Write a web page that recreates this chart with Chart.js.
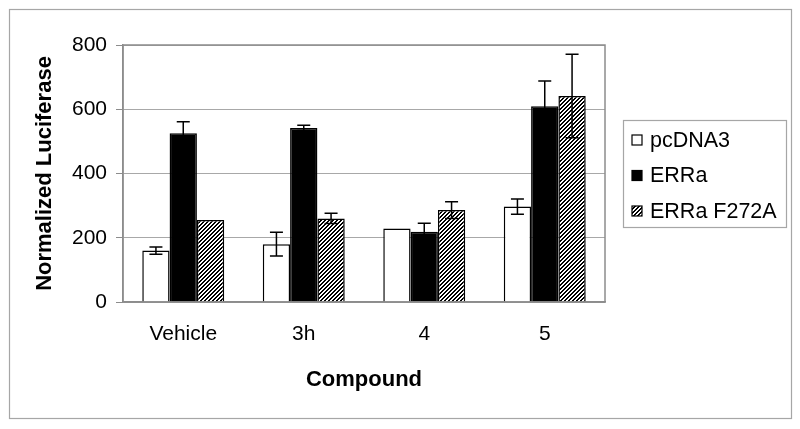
<!DOCTYPE html>
<html>
<head>
<meta charset="utf-8">
<script src="https://cdn.jsdelivr.net/npm/chart.js@4"></script>
<style>
html,body{margin:0;padding:0;background:#fff;}
canvas{display:block;}
</style>
</head>
<body>
<canvas id="c" width="800" height="429"></canvas>
<script>
// ---- data ----
const categories = ["Vehicle", "3h", "4", "5"];
const seriesNames = ["pcDNA3", "ERRa", "ERRa F272A"];
const pcDNA3 = [160, 180, 229, 297];
const pcDNA3Err = [11, 37, 0, 24];
const ERRa = [525, 542, 219, 609];
const ERRaErr = [36, 8, 26, 79];
const ERRaF272A = [255, 260, 286, 641];
const ERRaF272AErr = [0, 16, 26, 130];
const yTicks = [0, 200, 400, 600, 800];
const xTitle = "Compound";
const yTitle = "Normalized Luciferase";

// crisp diagonal hatch pattern ("/" stripes)
function makeHatch() {
  const s = 4;
  const p = document.createElement('canvas');
  p.width = s; p.height = s;
  const g = p.getContext('2d');
  g.fillStyle = '#fff';
  g.fillRect(0, 0, s, s);
  g.fillStyle = '#000';
  for (let x = 0; x < s; x++) {
    for (let y = 0; y < s; y++) {
      if ((x + y) % 4 < 2) g.fillRect(x, y, 1, 1);
    }
  }
  return g.createPattern(p, 'repeat');
}
const ctx = document.getElementById('c').getContext('2d');
const hatch = makeHatch();

const errors = [pcDNA3Err, ERRaErr, ERRaF272AErr];
const fills = ['#ffffff', '#000000', hatch];

const FONT = "'Liberation Sans', Arial, sans-serif";

const framePlugin = {
  id: 'frame',
  beforeDraw(chart) {
    const c = chart.ctx;
    c.save();
    c.fillStyle = '#fff';
    c.fillRect(0, 0, chart.width, chart.height);
    c.strokeStyle = '#a6a6a6';
    c.lineWidth = 1.2;
    c.strokeRect(9.5, 9.5, 782, 409);
    c.restore();
  },
  afterDatasetsDraw(chart) {
    const c = chart.ctx;
    const ys = chart.scales.y;
    c.save();
    c.strokeStyle = '#000';
    c.lineWidth = 1.5;
    chart.data.datasets.forEach((ds, di) => {
      const meta = chart.getDatasetMeta(di);
      meta.data.forEach((bar, i) => {
        const e = errors[di][i];
        if (!e) return;
        const v = ds.data[i];
        const x = bar.x;
        const yT = ys.getPixelForValue(v + e);
        const yB = ys.getPixelForValue(v - e);
        c.beginPath();
        c.moveTo(x, yT); c.lineTo(x, yB);
        c.moveTo(x - 6.5, yT); c.lineTo(x + 6.5, yT);
        c.moveTo(x - 6.5, yB); c.lineTo(x + 6.5, yB);
        c.stroke();
      });
    });
    c.restore();
  },
  afterDraw(chart) {
    const c = chart.ctx;
    const a = chart.chartArea;
    c.save();
    // plot area border
    c.strokeStyle = '#8c8c8c';
    c.lineWidth = 1.5;
    c.strokeRect(a.left, a.top, a.right - a.left, a.bottom - a.top);
    // legend
    const lx = 623, ly = 120, lw = 163, lh = 107;
    c.strokeStyle = '#a6a6a6';
    c.lineWidth = 1.2;
    c.fillStyle = '#fff';
    c.fillRect(lx, ly, lw, lh);
    c.strokeRect(lx + 0.5, ly + 0.5, lw, lh);
    c.font = "21.5px " + FONT;
    c.textBaseline = 'middle';
    c.textAlign = 'left';
    chart.data.datasets.forEach((ds, i) => {
      const cy = 140 + i * 35.5;
      c.fillStyle = fills[i];
      c.fillRect(632, cy - 5, 10, 10);
      c.strokeStyle = '#000';
      c.lineWidth = 1.2;
      c.strokeRect(632, cy - 5, 10, 10);
      c.fillStyle = '#000';
      c.fillText(ds.label, 650, cy + 1);
    });
    c.restore();
  }
};

new Chart(ctx, {
  type: 'bar',
  data: {
    labels: categories,
    datasets: [
      { label: seriesNames[0], data: pcDNA3, backgroundColor: fills[0], borderColor: '#000', borderWidth: 1.5 },
      { label: seriesNames[1], data: ERRa, backgroundColor: fills[1], borderColor: '#000', borderWidth: 1.5 },
      { label: seriesNames[2], data: ERRaF272A, backgroundColor: fills[2], borderColor: '#000', borderWidth: 1.5 }
    ]
  },
  options: {
    responsive: false,
    animation: false,
    events: [],
    layout: { padding: { top: 45, right: 195, bottom: 0, left: 0 } },
    datasets: { bar: { categoryPercentage: 0.68, barPercentage: 1.0 } },
    plugins: { legend: { display: false }, tooltip: { enabled: false } },
    scales: {
      x: {
        grid: { display: false, drawTicks: false },
        border: { display: true, color: '#8c8c8c', width: 1.5 },
        ticks: { color: '#000', font: { family: FONT, size: 21 }, padding: 20, maxRotation: 0 },
        title: { display: true, text: xTitle, color: '#000', font: { family: FONT, size: 22, weight: 'bold' }, padding: { top: 0, bottom: 36 } },
        afterFit(s) { s.height = 127; }
      },
      y: {
        min: 0, max: 800,
        afterBuildTicks(s) { s.ticks = yTicks.map(v => ({ value: v })); },
        grid: { color: '#a8a8a8', lineWidth: 1, drawTicks: true, tickLength: 7, tickColor: '#8c8c8c' },
        border: { display: true, color: '#8c8c8c', width: 1.5 },
        ticks: { color: '#000', font: { family: FONT, size: 21 }, padding: 9 },
        title: { display: true, text: yTitle, color: '#000', font: { family: FONT, size: 22, weight: 'bold' }, padding: { top: 32, bottom: 0 } },
        afterFit(s) { s.width = 123; }
      }
    }
  },
  plugins: [framePlugin]
});
</script>
</body>
</html>
